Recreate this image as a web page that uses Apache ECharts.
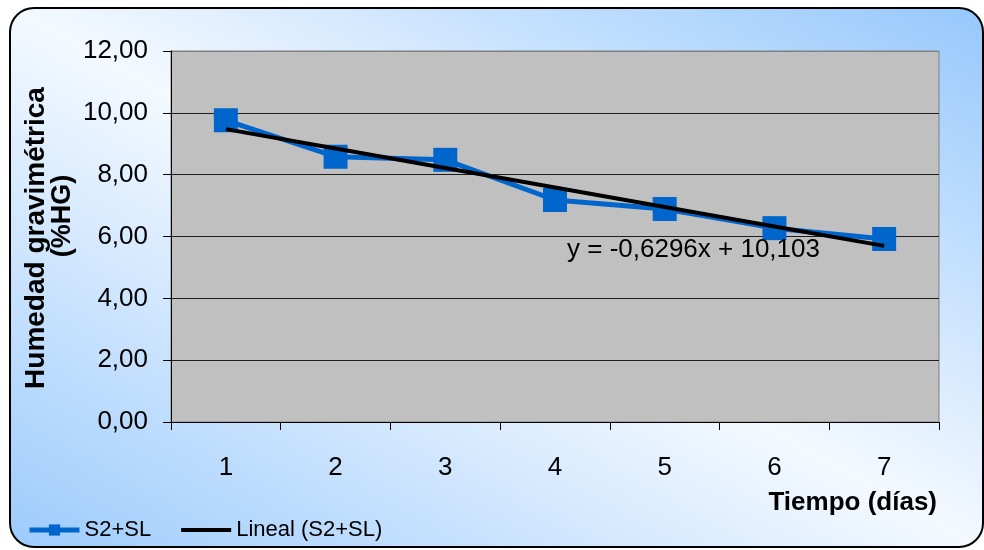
<!DOCTYPE html>
<html>
<head>
<meta charset="utf-8">
<script src="https://cdn.jsdelivr.net/npm/echarts@6/dist/echarts.min.js"></script>
<style>
  html, body { margin: 0; padding: 0; background: #ffffff; }
  #chart { width: 984px; height: 550px; }
</style>
</head>
<body>
<div id="chart"></div>
<script>
// Días de medición
const dias = ['1', '2', '3', '4', '5', '6', '7'];
// Humedad gravimétrica (%HG), muestra S2+SL
const humedad = [9.76, 8.58, 8.48, 7.18, 6.89, 6.27, 5.92];
// Ajuste lineal: y = pendiente·x + intercepto
const pendiente = [-0.6296];
const intercepto = [10.103];
// Marcas del eje Y
const yTicks = [0, 2, 4, 6, 8, 10, 12];

const FONT = '"Liberation Sans", Arial, sans-serif';
const fmtComa = (v, d) => v.toFixed(d).replace('.', ',');

const lineal = dias.map(d => +(pendiente[0] * Number(d) + intercepto[0]).toFixed(4));
const ecuacion = 'y = ' + fmtComa(pendiente[0], 4) + 'x + ' + fmtComa(intercepto[0], 3);

const chart = echarts.init(document.getElementById('chart'), null, { renderer: 'canvas' });

// Fondo: degradado azul-blanco en diagonal, con esquinas redondeadas
const fondo = new echarts.graphic.LinearGradient(726, -134, 268, 690, [
  { offset: 0, color: '#96c8fc' },
  { offset: 0.5, color: '#f4f9ff' },
  { offset: 1, color: '#9ccbfc' }
], true);

chart.setOption({
  animation: false,
  backgroundColor: '#ffffff',
  graphic: [
    {
      type: 'rect', z: -10, silent: true,
      shape: { x: 10, y: 8, width: 973, height: 539, r: 24 },
      style: { fill: fondo, stroke: '#000000', lineWidth: 2 }
    },
    {
      type: 'text', x: 36, y: 238, rotation: Math.PI / 2, z: 10,
      style: { text: 'Humedad gravimétrica', font: 'bold 28px ' + FONT, fill: '#000',
               textAlign: 'center', textVerticalAlign: 'middle' }
    },
    {
      type: 'text', x: 63, y: 216, rotation: Math.PI / 2, z: 10,
      style: { text: '(%HG)', font: 'bold 27px ' + FONT, fill: '#000',
               textAlign: 'center', textVerticalAlign: 'middle' }
    },
    {
      type: 'text', x: 937, y: 503, z: 10,
      style: { text: 'Tiempo (días)', font: 'bold 26px ' + FONT, fill: '#000',
               textAlign: 'right', textVerticalAlign: 'middle' }
    },
    {
      type: 'text', x: 567, y: 250, z: 10,
      style: { text: ecuacion, font: '26px ' + FONT, fill: '#000',
               textAlign: 'left', textVerticalAlign: 'middle' }
    }
  ],
  grid: {
    left: 171, right: 45, top: 51, bottom: 128,
    show: true, backgroundColor: '#c0c0c0', borderColor: '#808080', borderWidth: 1
  },
  legend: {
    left: 27, top: 519, padding: 0,
    itemWidth: 50, itemHeight: 14, itemGap: 28,
    textStyle: { fontFamily: FONT, fontSize: 22, color: '#000' },
    data: [
      { name: 'S2+SL', lineStyle: { width: 5 } },
      { name: 'Lineal (S2+SL)', lineStyle: { width: 4, color: '#000' }, itemStyle: { opacity: 0 } }
    ]
  },
  xAxis: {
    type: 'category',
    data: dias,
    boundaryGap: true,
    axisLine: { lineStyle: { color: '#000', width: 1 } },
    axisTick: { show: true, length: 8, interval: 0, lineStyle: { color: '#000' } },
    axisLabel: { margin: 33, fontFamily: FONT, fontSize: 26, color: '#000' },
    splitLine: { show: false }
  },
  yAxis: {
    type: 'value',
    min: yTicks[0], max: yTicks[yTicks.length - 1], interval: 2,
    axisLine: { show: true, lineStyle: { color: '#000', width: 1 } },
    axisTick: { show: true, length: 8, lineStyle: { color: '#000' } },
    axisLabel: { margin: 23, fontFamily: FONT, fontSize: 26, color: '#000',
                 formatter: v => fmtComa(v, 2) },
    splitLine: { show: true, lineStyle: { color: ['#1e1e1e', '#1e1e1e', '#1e1e1e', '#1e1e1e', '#1e1e1e', '#1e1e1e', '#808080'], width: 1 } }
  },
  series: [
    {
      name: 'S2+SL',
      type: 'line',
      data: humedad,
      symbol: 'rect',
      symbolSize: 24,
      lineStyle: { color: '#0066cc', width: 5 },
      itemStyle: { color: '#0066cc' },
      z: 3
    },
    {
      name: 'Lineal (S2+SL)',
      type: 'line',
      data: lineal,
      showSymbol: false,
      symbol: 'none',
      lineStyle: { color: '#000000', width: 4 },
      itemStyle: { color: '#000000' },
      z: 4
    }
  ]
});
</script>
</body>
</html>
